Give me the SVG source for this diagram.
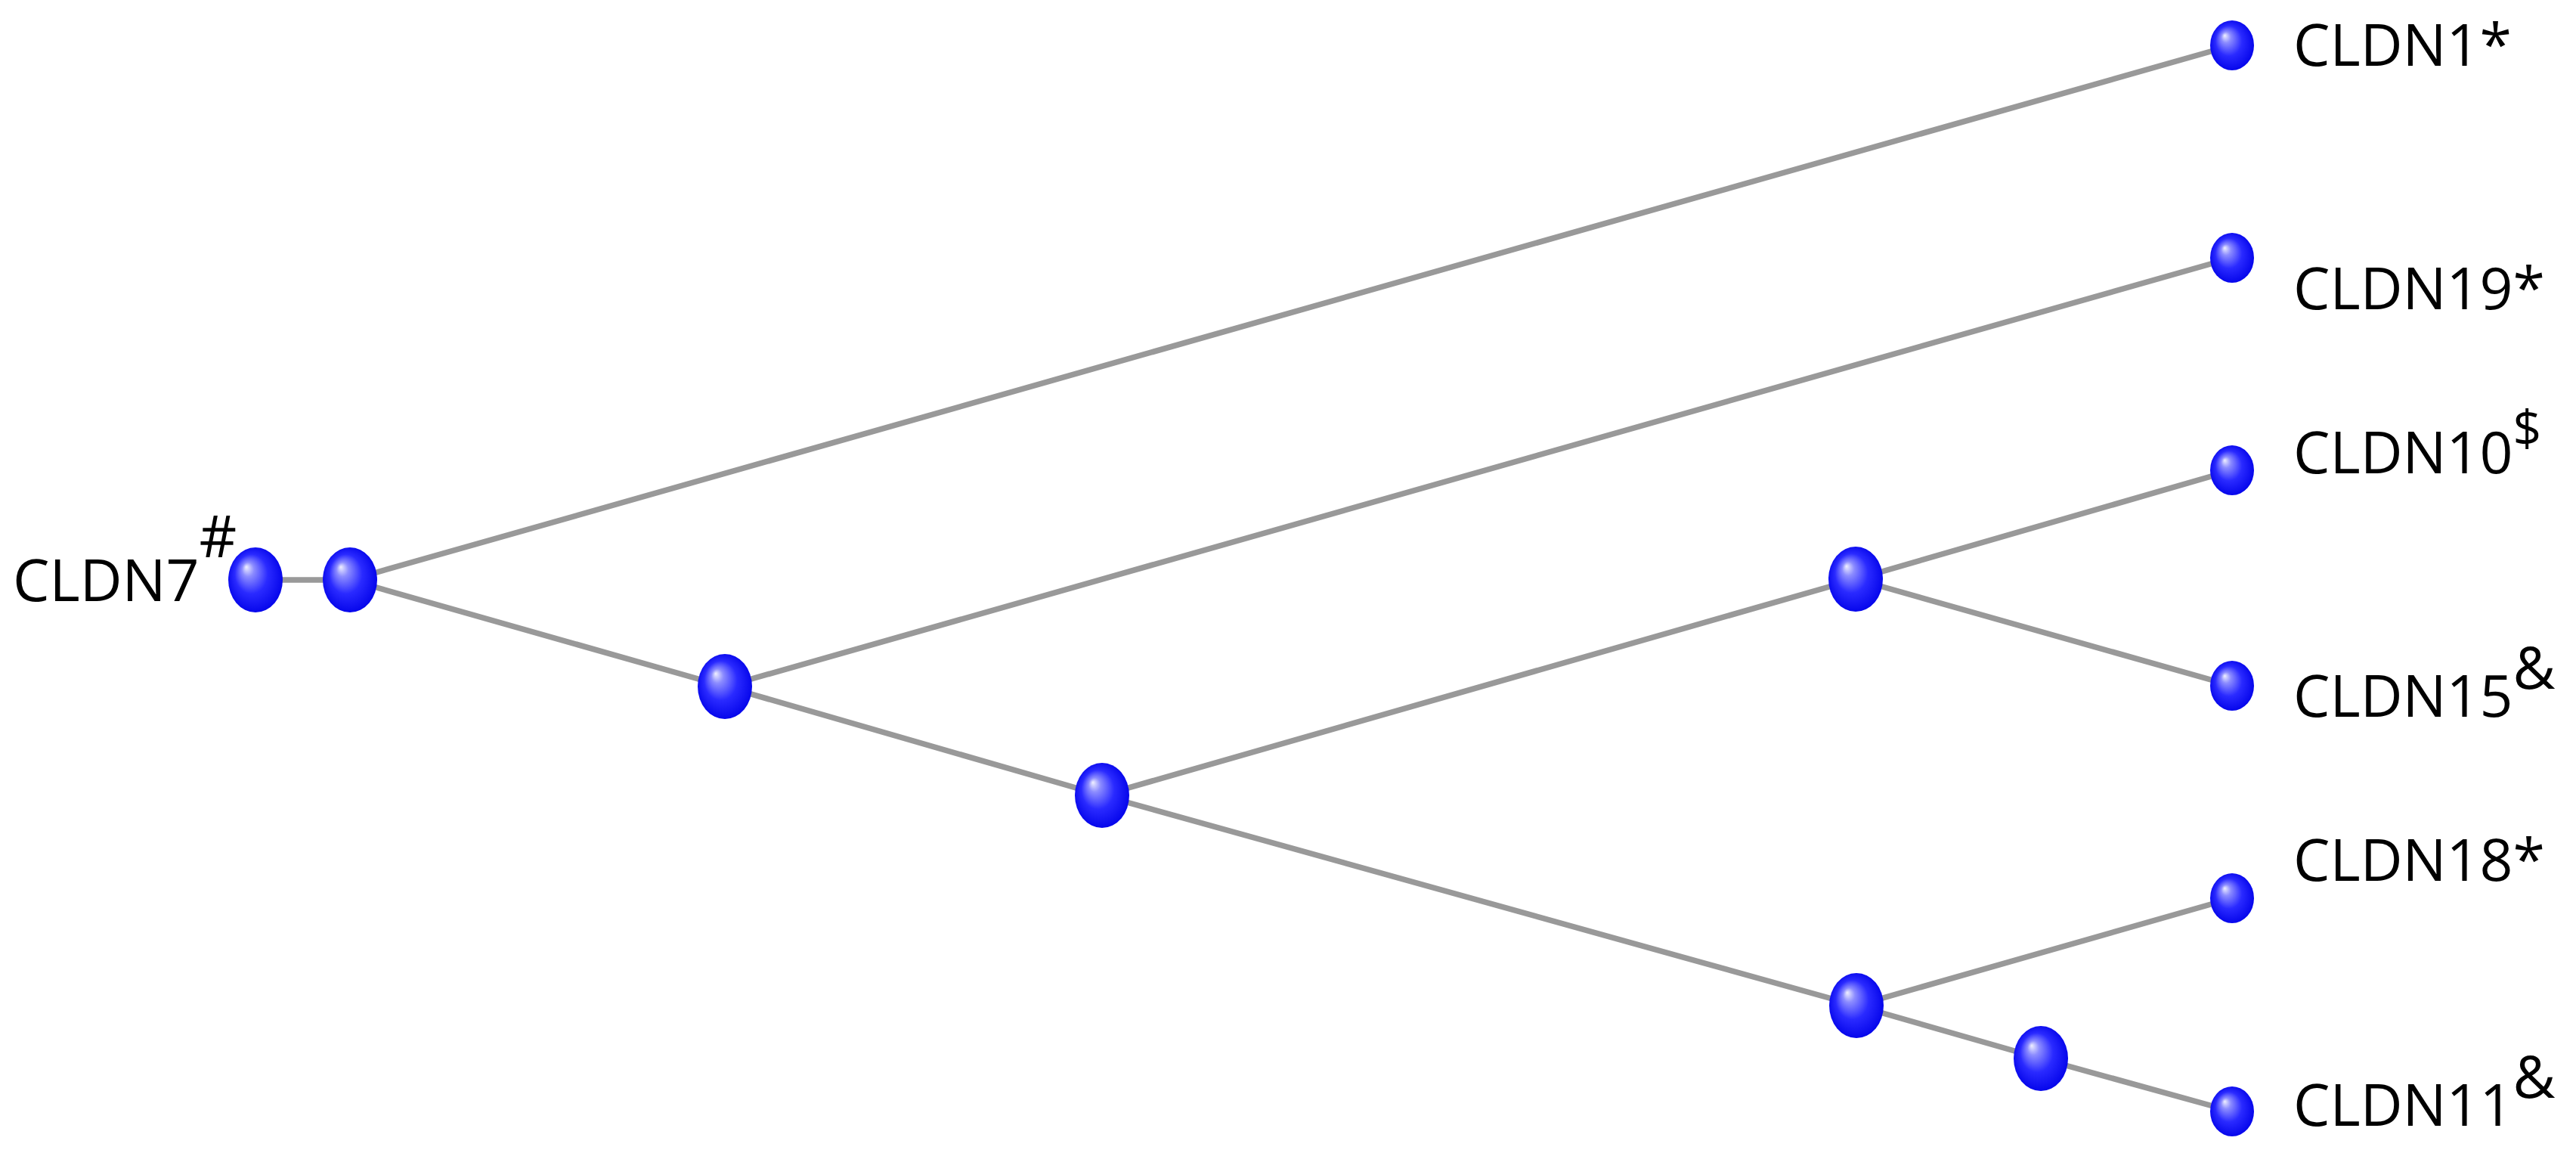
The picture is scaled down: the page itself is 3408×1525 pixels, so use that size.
<svg xmlns="http://www.w3.org/2000/svg" width="3408" height="1525" viewBox="0 0 3408 1525">
<style>
.edge{stroke:#999999;stroke-width:7.5;stroke-linecap:round;fill:none}
.node{fill:url(#ball)}
.label{font-family:"Open Sans","Liberation Sans",sans-serif;font-size:77px;fill:#000}
</style>
<defs>
<radialGradient id="ball" cx="0.5" cy="0.5" r="0.55" fx="0.33" fy="0.3">
<stop offset="0" stop-color="#f0f0ff"/>
<stop offset="0.2" stop-color="#8c8cff"/>
<stop offset="0.55" stop-color="#2a2aff"/>
<stop offset="1" stop-color="#0000e8"/>
</radialGradient>
</defs>
<rect width="3408" height="1525" fill="#ffffff"/>
<g id="connectors">
<line class="edge" x1="338" y1="767" x2="463" y2="767"/>
<line class="edge" x1="463" y1="767" x2="2953" y2="60"/>
<line class="edge" x1="463" y1="767" x2="959" y2="908"/>
<line class="edge" x1="959" y1="908" x2="2953" y2="341"/>
<line class="edge" x1="959" y1="908" x2="1458" y2="1052"/>
<line class="edge" x1="1458" y1="1052" x2="2455" y2="766"/>
<line class="edge" x1="2455" y1="766" x2="2953" y2="622"/>
<line class="edge" x1="2455" y1="766" x2="2953" y2="907"/>
<line class="edge" x1="1458" y1="1052" x2="2456" y2="1330"/>
<line class="edge" x1="2456" y1="1330" x2="2953" y2="1188"/>
<line class="edge" x1="2456" y1="1330" x2="2700" y2="1400"/>
<line class="edge" x1="2700" y1="1400" x2="2953" y2="1470"/>
</g>
<g id="n1"><ellipse class="node" cx="338" cy="767" rx="36" ry="43"/></g>
<g id="n2"><ellipse class="node" cx="463" cy="767" rx="36" ry="43"/></g>
<g id="n3"><ellipse class="node" cx="959" cy="908" rx="36" ry="43"/></g>
<g id="n4"><ellipse class="node" cx="1458" cy="1052" rx="36" ry="43"/></g>
<g id="n5"><ellipse class="node" cx="2455" cy="766" rx="36" ry="43"/></g>
<g id="n6"><ellipse class="node" cx="2456" cy="1330" rx="36" ry="43"/></g>
<g id="n7"><ellipse class="node" cx="2700" cy="1400" rx="36" ry="43"/></g>
<g id="cldn7"><text class="label" x="17" y="795">CLDN7<tspan dy="-58">#</tspan></text></g>
<g id="cldn1"><ellipse class="node" cx="2953" cy="60" rx="29" ry="33"/><text class="label" x="3034" y="87">CLDN1*</text></g>
<g id="cldn19"><ellipse class="node" cx="2953" cy="341" rx="29" ry="33"/><text class="label" x="3034" y="409">CLDN19*</text></g>
<g id="cldn10"><ellipse class="node" cx="2953" cy="622" rx="29" ry="33"/><text class="label" x="3034" y="626">CLDN10<tspan dy="-36" font-size="66">$</tspan></text></g>
<g id="cldn15"><ellipse class="node" cx="2953" cy="907" rx="29" ry="33"/><text class="label" x="3034" y="948">CLDN15<tspan dy="-37">&amp;</tspan></text></g>
<g id="cldn18"><ellipse class="node" cx="2953" cy="1188" rx="29" ry="33"/><text class="label" x="3034" y="1165">CLDN18*</text></g>
<g id="cldn11"><ellipse class="node" cx="2953" cy="1470" rx="29" ry="33"/><text class="label" x="3034" y="1489">CLDN11<tspan dy="-37">&amp;</tspan></text></g>
</svg>
